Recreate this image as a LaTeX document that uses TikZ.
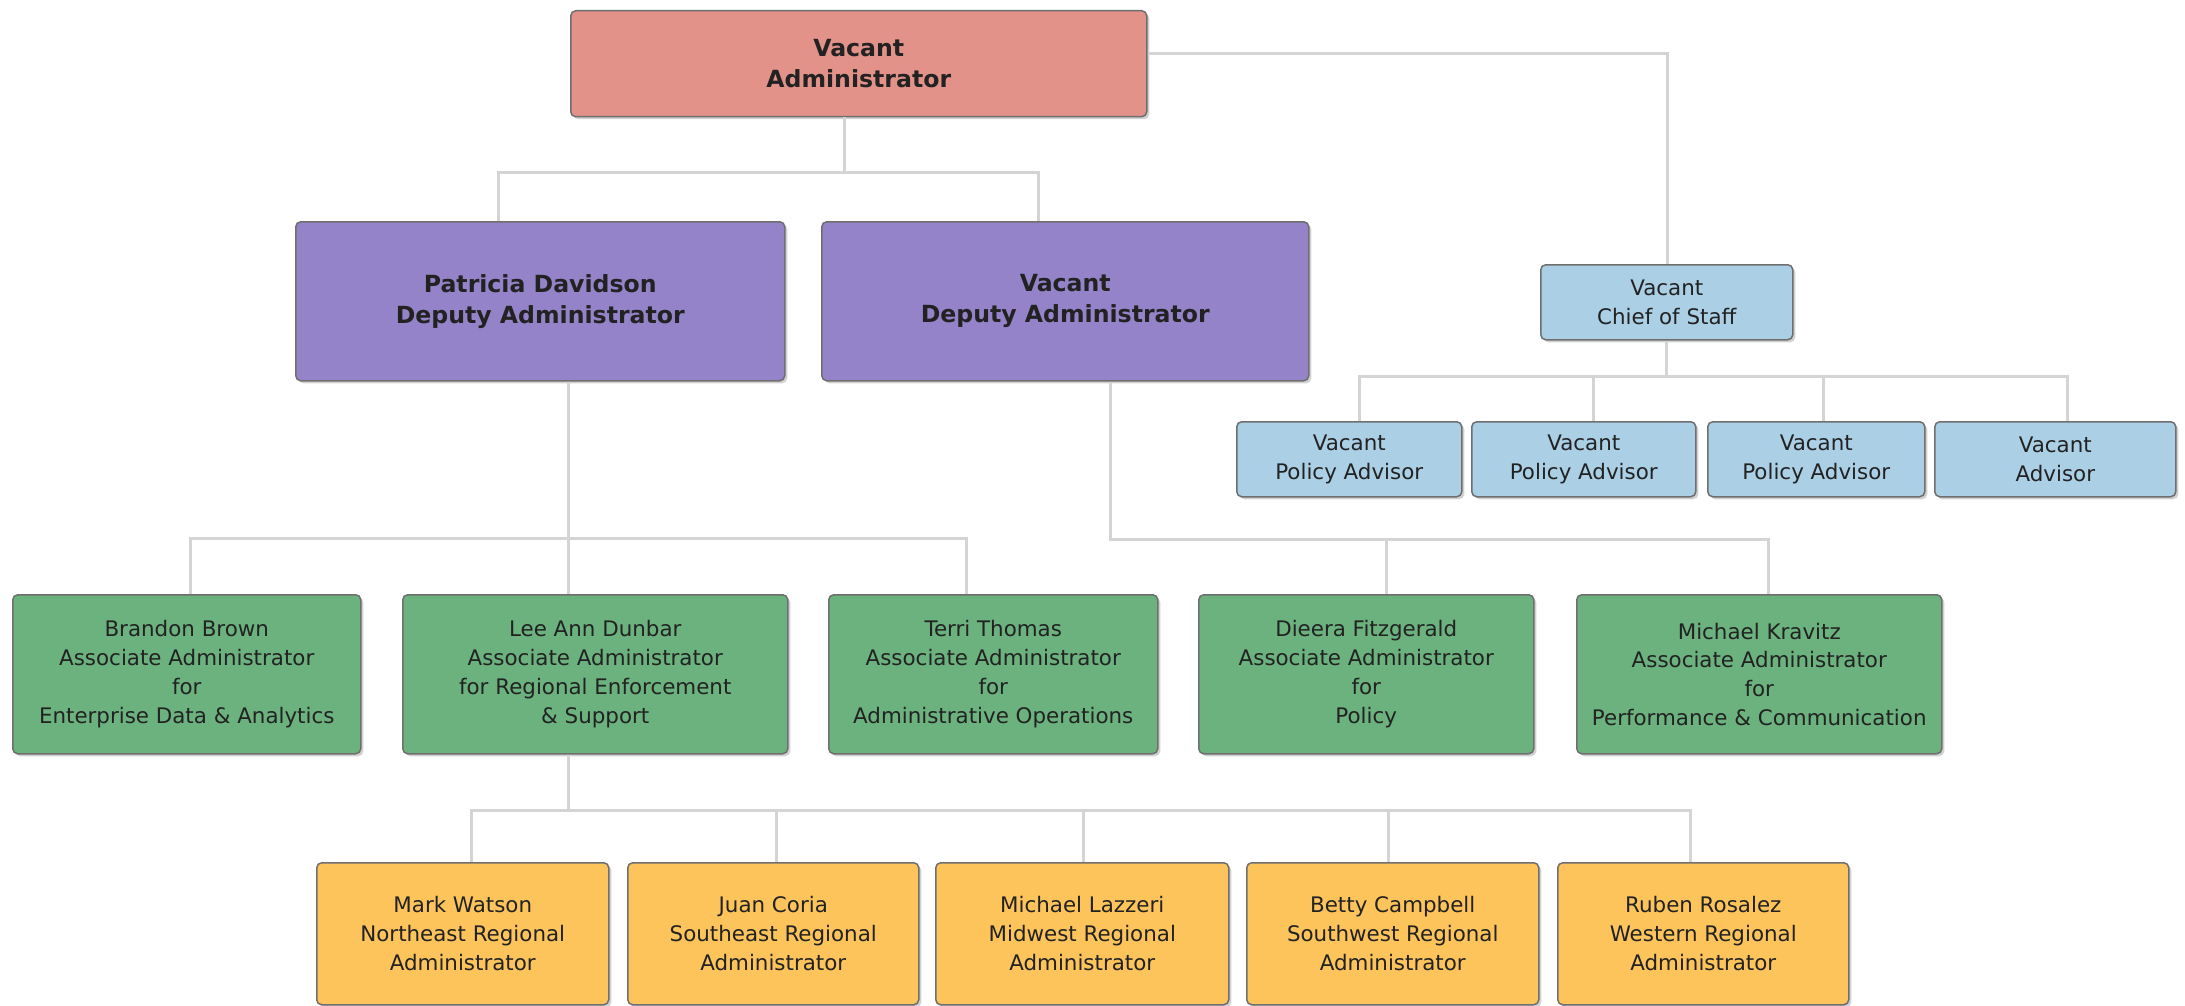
\documentclass[tikz,border=0pt]{standalone}
\usepackage{fontspec}
\setmainfont{DejaVu Sans}
\usetikzlibrary{shadows}
\definecolor{cred}{HTML}{E3928A}
\definecolor{cpurple}{HTML}{9483C9}
\definecolor{cblue}{HTML}{ABCFE5}
\definecolor{cgreen}{HTML}{6BB27F}
\definecolor{corange}{HTML}{FDC45C}
\definecolor{cborder}{HTML}{6F6F6F}
\definecolor{cconn}{HTML}{D4D4D4}
\definecolor{ctext}{HTML}{222222}
\tikzset{
  box/.style={draw=cborder, line width=1.5pt, rounded corners=5pt, anchor=north west,
    inner sep=0pt, align=center, text=ctext,
    drop shadow={shadow xshift=2.5pt, shadow yshift=-2.5pt, opacity=0.18, fill=black}},
  normtxt/.style={font=\fontsize{21.4}{28.8}\selectfont},
  boldtxt/.style={font=\bfseries\fontsize{23.6}{31}\selectfont},
  redbox/.style={box, boldtxt, fill=cred},
  purplebox/.style={box, boldtxt, fill=cpurple},
  bluebox/.style={box, normtxt, fill=cblue},
  greenbox/.style={box, normtxt, fill=cgreen},
  orangebox/.style={box, normtxt, fill=corange},
  conn/.style={draw=cconn, line width=3pt},
}
\begin{document}
\begin{tikzpicture}[x=1pt, y=-1pt]
\fill[white] (0,0) rectangle (2185,1006);
\useasboundingbox (0,0) rectangle (2185,1006);

% nodes
\node[redbox, minimum width=576, minimum height=106] (top) at (570,10) {Vacant\\Administrator};
\node[purplebox, minimum width=489, minimum height=159] (dep1) at (295,221) {Patricia Davidson\\Deputy Administrator};
\node[purplebox, minimum width=487, minimum height=159] (dep2) at (821,221) {Vacant\\Deputy Administrator};
\node[bluebox, minimum width=252, minimum height=75] (cos) at (1540,264) {Vacant\\Chief of Staff};
\node[bluebox, minimum width=225, minimum height=75] (adv1) at (1236,421) {Vacant\\Policy Advisor};
\node[bluebox, minimum width=224, minimum height=75] (adv2) at (1471,421) {Vacant\\Policy Advisor};
\node[bluebox, minimum width=217, minimum height=75] (adv3) at (1707,421) {Vacant\\Policy Advisor};
\node[bluebox, minimum width=241, minimum height=75] (adv4) at (1934,421) {Vacant\\Advisor};
\node[greenbox, minimum width=348, minimum height=159] (g1) at (12,594) {Brandon Brown\\Associate Administrator\\for\\Enterprise Data \& Analytics};
\node[greenbox, minimum width=385, minimum height=159] (g2) at (402,594) {Lee Ann Dunbar\\Associate Administrator\\for Regional Enforcement\\\& Support};
\node[greenbox, minimum width=329, minimum height=159] (g3) at (828,594) {Terri Thomas\\Associate Administrator\\for\\Administrative Operations};
\node[greenbox, minimum width=335, minimum height=159] (g4) at (1198,594) {Dieera Fitzgerald\\Associate Administrator\\for\\Policy};
\node[greenbox, minimum width=365, minimum height=159] (g5) at (1576,594) {Michael Kravitz\\Associate Administrator\\for\\Performance \& Communication};
\node[orangebox, minimum width=292, minimum height=142] (o1) at (316,862) {Mark Watson\\Northeast Regional\\Administrator};
\node[orangebox, minimum width=291, minimum height=142] (o2) at (627,862) {Juan Coria\\Southeast Regional\\Administrator};
\node[orangebox, minimum width=293, minimum height=142] (o3) at (935,862) {Michael Lazzeri\\Midwest Regional\\Administrator};
\node[orangebox, minimum width=292, minimum height=142] (o4) at (1246,862) {Betty Campbell\\Southwest Regional\\Administrator};
\node[orangebox, minimum width=291, minimum height=142] (o5) at (1557,862) {Ruben Rosalez\\Western Regional\\Administrator};

% connectors
\draw[conn] ([xshift=-14]top.south) -- ++(0,57);
\draw[conn] ([xshift=-41.5]dep1.north) -- ++(0,-48) -| ([xshift=-26.5]dep2.north);
\draw[conn] ([yshift=10]top.east) -| ([xshift=1]cos.north);
\draw[conn] (cos.south) -- ++(0,37);
\draw[conn] ([xshift=10.5]adv1.north) -- ++(0,-45) -| ([xshift=12.5]adv4.north);
\draw[conn] ([xshift=10]adv2.north) -- ++(0,-45);
\draw[conn] ([xshift=7.5]adv3.north) -- ++(0,-45);
\draw[conn] ([xshift=28.5]dep1.south) -- ([xshift=-26.5]g2.north);
\draw[conn] ([xshift=4]g1.north) -- ++(0,-56) -| ([xshift=-26.5]g3.north);
\draw[conn] ([xshift=45.5]dep2.south) -- ++(0,158) -| ([xshift=9.5]g5.north);
\draw[conn] ([xshift=20.5]g4.north) -- ++(0,-56);
\draw[conn] ([xshift=-26.5]g2.south) -- ++(0,57);
\draw[conn] ([xshift=9]o1.north) -- ++(0,-52) -| ([xshift=-12.5]o5.north);
\draw[conn] ([xshift=3.5]o2.north) -- ++(0,-52);
\draw[conn] ([xshift=1.5]o3.north) -- ++(0,-52);
\draw[conn] ([xshift=-4]o4.north) -- ++(0,-52);
\end{tikzpicture}
\end{document}
